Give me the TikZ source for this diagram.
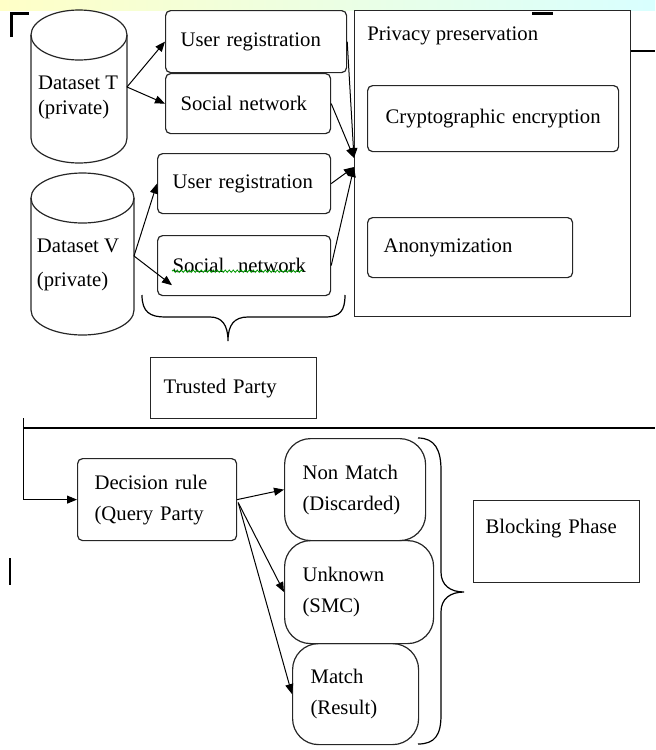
\documentclass[tikz,border=0pt]{standalone}
\usepackage{fontspec}
\setmainfont{Liberation Serif}
\usetikzlibrary{arrows.meta,calc,decorations.pathmorphing}
\begin{document}
\begin{tikzpicture}[x=0.5pt,y=-0.5pt,
  every node/.style={font=\fontsize{10.35pt}{15.5pt}\selectfont},
  bx/.style={draw=black!85, line width=0.6pt, rounded corners=2.5pt, anchor=north west, inner xsep=7.5pt, inner ysep=0pt, align=left},
  sq/.style={draw=black!85, line width=0.6pt, anchor=north west, inner ysep=0pt},
  pill/.style={draw=black!85, line width=0.6pt, rounded corners=13pt, anchor=north west, inner xsep=9pt, inner ysep=0pt, align=left},
  arr/.style={line width=0.5pt, -{Triangle[length=5pt,width=4pt]}},
  ln/.style={line width=0.6pt},
  cyl/.style={draw=black!85, line width=0.6pt},
  squig/.style={draw=green!60!black, line width=0.4pt, decorate, decoration={snake, amplitude=0.6pt, segment length=2pt}}
]
\useasboundingbox (0,0) rectangle (655,750);
\shade[left color=yellow!22, right color=cyan!15] (0,0) rectangle (655,10);

% cylinders
\draw[cyl] (31,35) -- (31,138) arc[start angle=180, end angle=360, x radius=24pt, y radius=12.5pt] -- (127,35);
\draw[cyl] (79,35) ellipse[x radius=24pt, y radius=12.5pt];
\node[align=left] (tT) at (78,97) {Dataset T\\[-3pt](private)};
\coordinate (cT) at (127,87);

\draw[cyl] (31,198) -- (31,310) arc[start angle=180, end angle=360, x radius=25.75pt, y radius=12.5pt] -- (134,198);
\draw[cyl] (82.5,198) ellipse[x radius=25.75pt, y radius=12.5pt];
\node[align=left] (tV) at (78,265) {Dataset V\\[1.5pt](private)};
\coordinate (cV) at (134,256);

% top boxes
\node[bx, text width=75.5pt, minimum height=31pt] (urT) at (165,10) {User registration};
\node[bx, text width=67.5pt, minimum height=30pt] (snT) at (165,73) {Social network};
\node[bx, text width=71.5pt, minimum height=30pt] (urV) at (157,153) {User registration};
\node[bx, text width=71.5pt, minimum height=30pt] (snV) at (157,235) {Social\ \ network};
\coordinate (sqA) at ($(snV.south west)+(15,-25)$);
\coordinate (sqB) at ($(snV.south west)+(146,-25)$);
\draw[squig] (sqA) -- (sqB);

% privacy preservation
\node[sq, minimum width=138pt, minimum height=153pt, inner sep=0pt] (pp) at (354,10) {};
\node[anchor=west, inner sep=0pt] (ppl) at (367,36) {Privacy preservation};
\node[bx, text width=110.5pt, align=center, minimum height=33pt] (ce) at (367,85) {Cryptographic encryption};
\node[bx, inner xsep=8pt, text width=86.5pt, minimum height=30pt] (an) at (367,217) {Anonymization};
\coordinate (ppR) at ($(pp.north east)+(0,41)$);
\coordinate (edgeA) at (655,51);
\draw[ln] (ppR) -- (edgeA);

% arrows top
\draw[arr] (cT) -- (urT.west);
\draw[arr] (cT) -- (snT.west);
\draw[arr] (cV) -- (urV.west);
\coordinate (snVin) at ($(snV.south west)+(15,-11)$);
\draw[arr] (cV) -- (snVin);
\coordinate (conv1) at ($(pp.north west)+(0,148)$);
\coordinate (conv2) at ($(pp.north west)+(0,157)$);
\draw[arr] (urT.east) -- (conv1);
\draw[arr] (snT.east) -- (conv1);
\draw[arr] (urV.east) -- (conv2);
\draw[arr] (snV.east) -- (conv2);

% brace under V boxes
\draw[ln] (142,295) .. controls (142,312) and (150,317) .. (165,317) -- (210,317)
  .. controls (222,317) and (228,325) .. (228,341)
  .. controls (228,325) and (234,317) .. (248,317) -- (325,317)
  .. controls (340,317) and (345,311) .. (345,295);

\node[sq, text width=70pt, inner xsep=6.5pt, minimum height=30.5pt, align=left] (tp) at (150,357) {Trusted Party};

% separator
\coordinate (hlL) at (23,428);
\coordinate (hlR) at (655,428);
\draw[ln] (hlL) -- (hlR);
\coordinate (vtop) at (23,418);

% lower part
\node[bx, inner xsep=8.5pt, text width=62.5pt, minimum height=41pt] (dec) at (77,458) {Decision rule\\(Query Party};
\draw[arr] (vtop) |- (dec.west);
\node[pill, text width=52.5pt, minimum height=51pt] (nm) at (284,438) {Non Match\\(Discarded)};
\node[pill, text width=56.5pt, minimum height=51.5pt] (unk) at (284,540) {Unknown\\(SMC)};
\node[pill, text width=45pt, minimum height=50.5pt] (mt) at (292,643) {Match\\(Result)};
\coordinate (dS) at ($(dec.east)+(1,3)$);
\draw[arr] (dec.east) -- (nm.west);
\draw[arr] (dS) -- (unk.west);
\draw[arr] (dS) -- (mt.west);

% right brace
\draw[ln] (418,438) .. controls (435,438) and (441,450) .. (441,470) -- (441,572)
  .. controls (441,585) and (450,592) .. (464,592)
  .. controls (450,592) and (441,599) .. (441,612) -- (441,715)
  .. controls (441,735) and (435,744) .. (418,744);

\node[sq, inner xsep=6pt, text width=71pt, minimum height=41pt, align=left] (bp) at (473,500) {Blocking Phase\\\mbox{}};

% stray marks
\draw[line width=1.5pt] (11,37) -- (11,13) -- (29,13);
\draw[line width=1.5pt] (532,13) -- (553,13);
\draw[line width=1pt] (10,558) -- (10,585);
\end{tikzpicture}
\end{document}
